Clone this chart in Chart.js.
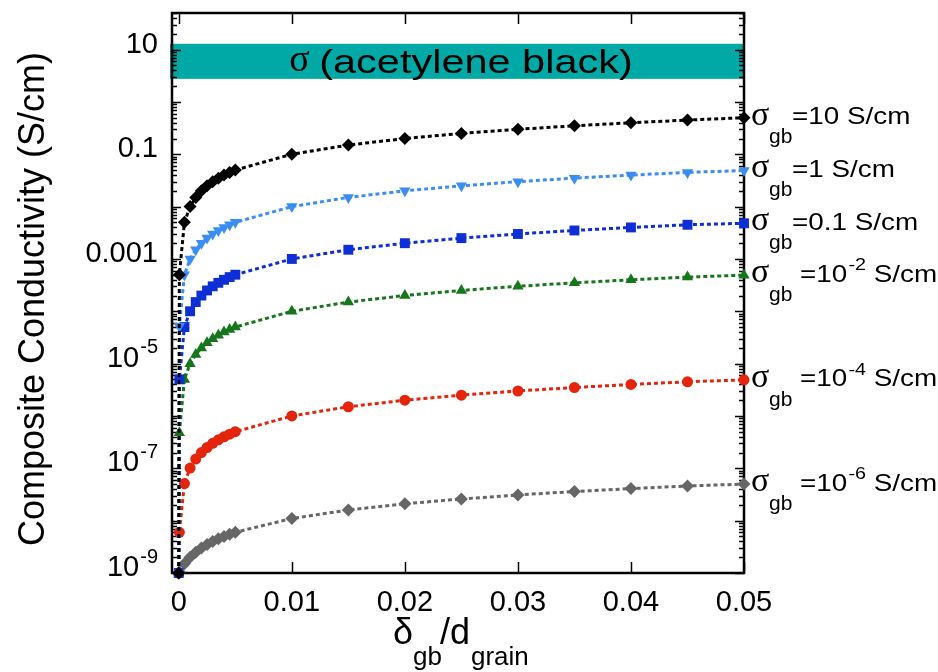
<html>
<head>
    <title>Composite Conductivity</title>
    <script src="https://cdn.jsdelivr.net/npm/chart.js@4.4.1/dist/chart.umd.min.js"></script>
    <style>
        body { margin: 0; background: #fff; }
        #wrap { width: 938px; height: 672px; position: relative; }
    </style>
</head>
<body>
<div id="wrap"><canvas id="condChart"></canvas></div>

<script>
  // delta_gb / d_grain
  const ratios = [0, 0.00005, 0.0005, 0.001, 0.0015, 0.002, 0.0025, 0.003, 0.0035, 0.004, 0.0045, 0.005,
    0.01, 0.015, 0.02, 0.025, 0.03, 0.035, 0.04, 0.045, 0.05]

  // composite conductivity (S/cm), one list per sigma_gb
  const sigGb10 = [1e-9, 5e-4, 5e-3, 0.01, 0.015, 0.02, 0.025, 0.03, 0.035, 0.04, 0.045, 0.05,
    0.1, 0.15, 0.2, 0.25, 0.3, 0.35, 0.4, 0.45, 0.5]
  const sigGb1 = [1e-9, 5.2e-5, 5e-4, 1e-3, 1.5e-3, 2e-3, 2.5e-3, 3e-3, 3.5e-3, 4e-3, 4.5e-3, 5e-3,
    0.01, 0.015, 0.02, 0.025, 0.03, 0.035, 0.04, 0.045, 0.049]
  const sigGb01 = [1e-9, 5e-6, 5e-5, 1e-4, 1.5e-4, 2e-4, 2.5e-4, 3e-4, 3.5e-4, 4e-4, 4.5e-4, 5e-4,
    1e-3, 1.5e-3, 2e-3, 2.5e-3, 3e-3, 3.5e-3, 4e-3, 4.5e-3, 4.8e-3]
  const sigGb1em2 = [1e-9, 4.8e-7, 5e-6, 1e-5, 1.5e-5, 2e-5, 2.5e-5, 3e-5, 3.5e-5, 4e-5, 4.5e-5, 5e-5,
    1e-4, 1.5e-4, 2e-4, 2.5e-4, 3e-4, 3.5e-4, 4e-4, 4.5e-4, 4.9e-4]
  const sigGb1em4 = [1e-9, 6e-9, 5.1e-8, 1.01e-7, 1.5e-7, 2e-7, 2.5e-7, 3e-7, 3.5e-7, 4e-7, 4.5e-7, 5e-7,
    1e-6, 1.5e-6, 2e-6, 2.5e-6, 3e-6, 3.5e-6, 4e-6, 4.5e-6, 4.9e-6]
  const sigGb1em6 = [1e-9, 1.05e-9, 1.5e-9, 2e-9, 2.5e-9, 3e-9, 3.5e-9, 4e-9, 4.5e-9, 5e-9, 5.5e-9, 6e-9,
    1.1e-8, 1.6e-8, 2.1e-8, 2.6e-8, 3.1e-8, 3.6e-8, 4.1e-8, 4.6e-8, 5e-8]

  const seriesText = ['=10 S/cm', '=1 S/cm', '=0.1 S/cm', '=10', '=10', '=10']
  const seriesExp = ['', '', '', '-2', '-4', '-6']

  // acetylene black conductivity band (S/cm)
  const bandRange = [2.76, 12.9]
  const bandLabel = '(acetylene black)'

  const xTicks = [0, 0.01, 0.02, 0.03, 0.04, 0.05]
  const yTickValues = [10, 0.1, 1e-3, 1e-5, 1e-7, 1e-9]
  const yTickText = ['10', '0.1', '0.001', '10', '10', '10']
  const yTickExp = ['', '', '', '-5', '-7', '-9']

  const SANS = '"Liberation Sans", Arial, sans-serif'
  const SERIF = '"Liberation Serif", "Times New Roman", serif'

  function series(vals, color, style, radius, rotation) {
    return {
      data: ratios.map((x, i) => ({x: x, y: vals[i]})),
      borderColor: color,
      backgroundColor: color,
      borderWidth: 3,
      borderDash: [4, 3],
      pointStyle: style,
      pointRadius: radius,
      pointRotation: rotation || 0,
      pointBorderWidth: 0,
      clip: false,
      tension: 0
    }
  }

  const datasets = [
    series(sigGb10, '#000000', 'rectRot', 6.5),
    series(sigGb1, '#3a8ef2', 'triangle', 6.5, 180),
    series(sigGb01, '#0f2fd6', 'rect', 7),
    series(sigGb1em2, '#16761c', 'triangle', 6.5),
    series(sigGb1em4, '#e4250c', 'circle', 5.5),
    series(sigGb1em6, '#666666', 'rectRot', 6.5)
  ]

  // y tick label, right aligned, with optional superscript
  function tickLabel(ctx, base, exp, x, y) {
    ctx.save()
    ctx.textBaseline = 'middle'
    ctx.textAlign = 'left'
    ctx.font = '29px ' + SANS
    let wb = ctx.measureText(base).width
    ctx.font = '20px ' + SANS
    let we = exp ? ctx.measureText(exp).width + 1 : 0
    let start = x - wb - we
    ctx.font = '29px ' + SANS
    ctx.fillText(base, start, y)
    if (exp) {
      ctx.font = '20px ' + SANS
      ctx.fillText(exp, start + wb + 1, y - 11)
    }
    ctx.restore()
  }

  // right-hand series label, text stretched a bit horizontally
  function seriesLabel(ctx, base, exp, x, y) {
    ctx.save()
    ctx.translate(x, y)
    ctx.scale(1.16, 1)
    ctx.textBaseline = 'middle'
    ctx.textAlign = 'left'
    ctx.font = '24px ' + SANS
    ctx.fillText(base, 0, 0)
    let w = ctx.measureText(base).width
    if (exp) {
      ctx.font = '17px ' + SANS
      ctx.fillText(exp, w + 1, -10)
      w += ctx.measureText(exp).width + 1
      ctx.font = '24px ' + SANS
      ctx.fillText(' S/cm', w, 0)
    }
    ctx.restore()
  }

  const decor = {
    id: 'decor',
    beforeDatasetsDraw(chart) {
      const {ctx, chartArea: a, scales: {x, y}} = chart
      ctx.save()
      // band
      let yTop = y.getPixelForValue(bandRange[1])
      let yBot = y.getPixelForValue(bandRange[0])
      ctx.fillStyle = '#00a8a6'
      ctx.fillRect(a.left - 2, yTop, a.right - a.left + 2, yBot - yTop)
      ctx.fillStyle = '#000'
      ctx.textBaseline = 'middle'
      ctx.font = '38px ' + SERIF
      let ws = ctx.measureText('\u03c3 ').width
      ctx.font = '34px ' + SANS
      let wl = ctx.measureText(bandLabel).width * 1.22
      let cx = (a.left + a.right) / 2 + 3
      let sx = cx - (ws + wl) / 2
      let cy = (yTop + yBot) / 2 + 2
      ctx.font = '38px ' + SERIF
      ctx.fillText('\u03c3', sx, cy - 2)
      ctx.save()
      ctx.translate(sx + ws, cy)
      ctx.scale(1.22, 1)
      ctx.font = '34px ' + SANS
      ctx.fillText(bandLabel, 0, 0)
      ctx.restore()

      // frame
      ctx.strokeStyle = '#000'
      ctx.lineWidth = 2.5
      ctx.strokeRect(a.left, a.top, a.right - a.left, a.bottom - a.top)

      // log ticks, left and right, inside
      ctx.lineWidth = 1.5
      ctx.beginPath()
      for (let e = -9; e <= 1; e++) {
        for (let m = 1; m <= 9; m++) {
          let v = m * Math.pow(10, e)
          if (v < y.min || v > y.max) continue
          let py = Math.round(y.getPixelForValue(v)) + 0.5
          let len = m === 1 ? 9 : 5
          ctx.moveTo(a.left, py); ctx.lineTo(a.left + len, py)
          ctx.moveTo(a.right, py); ctx.lineTo(a.right - len, py)
        }
      }
      xTicks.forEach(t => {
        let px = Math.round(x.getPixelForValue(t)) + 0.5
        ctx.moveTo(px, a.bottom); ctx.lineTo(px, a.bottom - 11)
        ctx.moveTo(px, a.top); ctx.lineTo(px, a.top + 11)
      })
      ctx.stroke()
      ctx.restore()
    },
    afterDraw(chart) {
      const {ctx, chartArea: a, scales: {x, y}} = chart
      ctx.save()
      ctx.fillStyle = '#000'

      // x tick labels
      ctx.font = '29px ' + SANS
      ctx.textAlign = 'center'
      ctx.textBaseline = 'middle'
      xTicks.forEach(t => {
        ctx.fillText(String(t), x.getPixelForValue(t), a.bottom + 30)
      })

      // y tick labels
      yTickValues.forEach((v, i) => {
        tickLabel(ctx, yTickText[i], yTickExp[i], a.left - 14, y.getPixelForValue(v) - 5)
      })

      // series labels
      datasets.forEach((d, i) => {
        let py = y.getPixelForValue(d.data[d.data.length - 1].y)
        ctx.textAlign = 'left'
        ctx.textBaseline = 'middle'
        ctx.font = '34px ' + SERIF
        ctx.fillText('\u03c3', 751, py - 2)
        ctx.font = '21px ' + SANS
        ctx.fillText('gb', 769, py + 20)
        seriesLabel(ctx, seriesText[i], seriesExp[i], seriesExp[i] ? 800 : 792, py)
      })

      // axis titles
      ctx.save()
      ctx.translate(34, (a.top + a.bottom) / 2 + 6)
      ctx.rotate(-Math.PI / 2)
      ctx.textAlign = 'center'
      ctx.textBaseline = 'middle'
      ctx.font = '36px ' + SANS
      ctx.fillText('Composite Conductivity (S/cm)', 0, 0)
      ctx.restore()

      ctx.textAlign = 'left'
      ctx.textBaseline = 'middle'
      let tx = 393, ty = 634
      ctx.font = '36px ' + SANS
      ctx.fillText('\u03b4', tx, ty)
      tx += ctx.measureText('\u03b4').width
      ctx.font = '26px ' + SANS
      ctx.fillText('gb', tx, ty + 24)
      tx += ctx.measureText('gb').width - 2
      ctx.font = '36px ' + SANS
      ctx.fillText('/d', tx, ty)
      tx += ctx.measureText('/d').width + 1
      ctx.font = '26px ' + SANS
      ctx.fillText('grain', tx, ty + 24)
      ctx.restore()
    }
  }

  new Chart(document.getElementById('condChart'), {
    type: 'line',
    data: {datasets: datasets},
    options: {
      responsive: true,
      maintainAspectRatio: false,
      animation: false,
      layout: {padding: {left: 172, top: 13, right: 194, bottom: 99}},
      plugins: {legend: {display: false}, tooltip: {enabled: false}},
      scales: {
        x: {type: 'linear', min: -0.0006, max: 0.05, display: false},
        y: {type: 'logarithmic', min: 1e-9, max: 50, display: false}
      }
    },
    plugins: [decor]
  })
</script>
</body>
</html>
